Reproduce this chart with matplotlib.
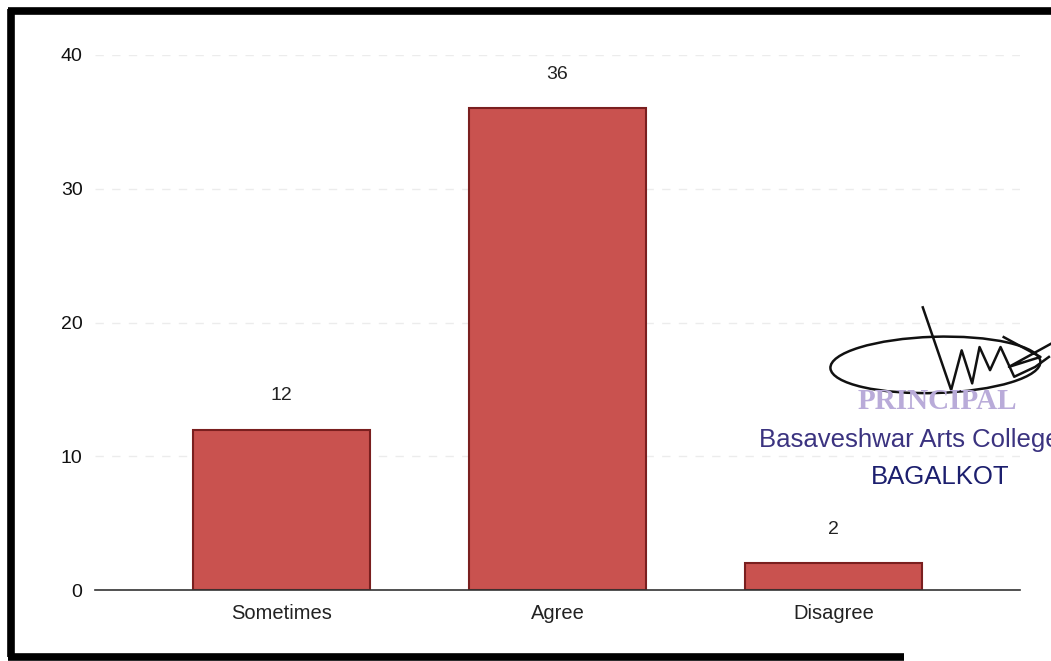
import matplotlib
matplotlib.use("Agg")
import matplotlib.pyplot as plt
from matplotlib.lines import Line2D
from matplotlib.patches import Ellipse

plt.rcParams['font.family'] = ['Liberation Sans', 'DejaVu Sans']

categories = ["Sometimes", "Agree", "Disagree"]
counts = [12, 36, 2]
y_ticks = [0, 10, 20, 30, 40]

bar_color = "#c9524f"
edge_color = "#7a1f1f"

fig = plt.figure(figsize=(10.51, 6.61), dpi=100)
ax = fig.add_axes([0.0904, 0.1074, 0.88, 0.8094])

x = list(range(len(categories)))
ax.bar(x, counts, width=0.64, color=bar_color, edgecolor=edge_color, linewidth=1.5, zorder=3)

for xi, v in zip(x, counts):
    ax.annotate(str(v), (xi, v), xytext=(0, 24.5), textcoords="offset points",
                ha="center", va="center", fontsize=14, color="#222222")

ax.set_xlim(-0.675, 2.675)
ax.set_ylim(0, 40)
ax.set_yticks(y_ticks)
ax.set_yticklabels([str(t) for t in y_ticks], fontsize=14, color="#111111")
ax.set_xticks(x)
ax.set_xticklabels(categories, fontsize=14.5, color="#222222")
ax.tick_params(axis="both", length=0)
ax.tick_params(axis="x", pad=10)
ax.tick_params(axis="y", pad=9)

ax.grid(axis="y", color="#ececec", linestyle=(0, (6, 6)), linewidth=1.0, zorder=0)
for side in ["top", "right", "left"]:
    ax.spines[side].set_visible(False)
ax.spines["bottom"].set_color("#333333")
ax.spines["bottom"].set_linewidth(1.2)
ax.spines["bottom"].set_zorder(4)

# Page frame (open on the right edge)
frame_kw = dict(color="black", linewidth=5.5, transform=fig.transFigure, solid_capstyle="butt")
fig.add_artist(Line2D([0.008, 1.0], [0.983, 0.983], **frame_kw))
fig.add_artist(Line2D([0.010, 0.010], [0.986, 0.006], **frame_kw))
fig.add_artist(Line2D([0.008, 0.86], [0.006, 0.006], **frame_kw))

# Principal's stamp and signature
fig.text(0.816, 0.393, "PRINCIPAL", fontsize=21, color="#b9abd9", family="Liberation Serif",
         fontweight="bold", ha="left", va="center")
fig.text(0.722, 0.335, "Basaveshwar Arts College", fontsize=18.5, color="#3b3380",
         ha="left", va="center")
fig.text(0.829, 0.278, "BAGALKOT", fontsize=18.5, color="#1c1f6e", ha="left", va="center")
fig.add_artist(Ellipse((0.89, 0.448), 0.20, 0.085, angle=3, fill=False, edgecolor="#111111",
                       linewidth=1.8, transform=fig.transFigure))
fig.add_artist(Line2D([0.878, 0.905, 0.915, 0.925, 0.932, 0.942, 0.952, 0.965, 0.985, 0.998],
                      [0.535, 0.41, 0.47, 0.42, 0.475, 0.44, 0.475, 0.43, 0.445, 0.46],
                      color="#111111", linewidth=1.8, transform=fig.transFigure))
fig.add_artist(Line2D([0.955, 0.99, 0.96, 1.0], [0.49, 0.46, 0.445, 0.48],
                      color="#111111", linewidth=1.8, transform=fig.transFigure))

fig.savefig("out.png", dpi=100, facecolor="white")
